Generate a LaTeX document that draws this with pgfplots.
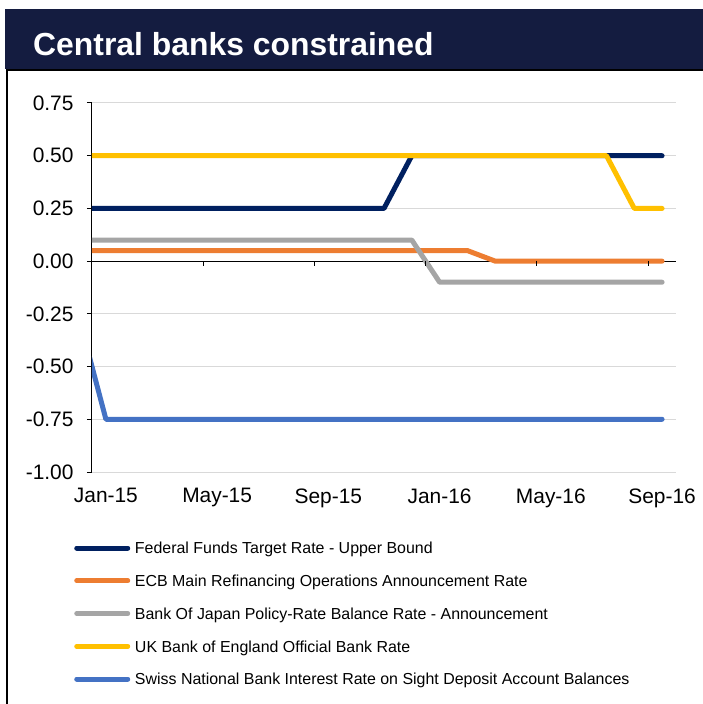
\documentclass[border=0pt]{standalone}
\usepackage{pgfplots}
\pgfplotsset{compat=1.18}
\usepackage{pgfplotstable}
\usepackage{fontspec}
\setmainfont{Liberation Sans}
\definecolor{titlebg}{RGB}{20,28,64}
\definecolor{fedc}{RGB}{0,32,96}
\definecolor{ecbc}{RGB}{237,125,49}
\definecolor{bojc}{RGB}{165,165,165}
\definecolor{boec}{RGB}{255,192,0}
\definecolor{snbc}{RGB}{68,114,196}
\definecolor{gridc}{RGB}{217,217,217}

% month index: -1 = Dec-14, 0 = Jan-15, ..., 20 = Sep-16
\pgfplotstableread{
m fed ecb boj boe snb
-1 0.25 0.05 0.10 0.50 -0.25
0 0.25 0.05 0.10 0.50 -0.75
1 0.25 0.05 0.10 0.50 -0.75
2 0.25 0.05 0.10 0.50 -0.75
3 0.25 0.05 0.10 0.50 -0.75
4 0.25 0.05 0.10 0.50 -0.75
5 0.25 0.05 0.10 0.50 -0.75
6 0.25 0.05 0.10 0.50 -0.75
7 0.25 0.05 0.10 0.50 -0.75
8 0.25 0.05 0.10 0.50 -0.75
9 0.25 0.05 0.10 0.50 -0.75
10 0.25 0.05 0.10 0.50 -0.75
11 0.50 0.05 0.10 0.50 -0.75
12 0.50 0.05 -0.10 0.50 -0.75
13 0.50 0.05 -0.10 0.50 -0.75
14 0.50 0.00 -0.10 0.50 -0.75
15 0.50 0.00 -0.10 0.50 -0.75
16 0.50 0.00 -0.10 0.50 -0.75
17 0.50 0.00 -0.10 0.50 -0.75
18 0.50 0.00 -0.10 0.50 -0.75
19 0.50 0.00 -0.10 0.25 -0.75
20 0.50 0.00 -0.10 0.25 -0.75
}\rates

\begin{document}
\begin{tikzpicture}
\useasboundingbox (0bp,0bp) rectangle (703bp,704bp);
\fill[white] (0bp,0bp) rectangle (703bp,704bp);
\fill[titlebg] (5bp,635bp) rectangle (712bp,695bp);
\draw[line width=1.2bp, black] (7bp,-5bp) -- (7bp,634bp) -- (712bp,634bp);
\node[anchor=base west, text=white, font=\fontsize{32}{38}\selectfont\bfseries, inner sep=0pt] at (33bp,648bp) {Central banks constrained};
\begin{axis}[
  at={(92bp,232bp)}, anchor=south west,
  width=584bp, height=369bp, scale only axis,
  xmin=-0.5, xmax=20.5, ymin=-1, ymax=0.75,
  axis y line*=left, axis x line*=bottom,
  x axis line style={draw=none},
  y axis line style={black, line width=1bp},
  xtick={0,4,8,12,16,20},
  xticklabels={Jan-15,May-15,Sep-15,Jan-16,May-16,Sep-16},
  xtick style={draw=none},
  ytick={-1,-0.75,-0.5,-0.25,0.25,0.5,0.75},
  extra y ticks={0},
  extra y tick style={grid style={black, line width=1bp}},
  ymajorgrids, grid style={gridc, line width=1bp},
  tick align=outside, major tick length=5bp,
  ytick style={black, line width=1bp},
  /pgf/number format/fixed, /pgf/number format/fixed zerofill,
  /pgf/number format/precision=2, /pgf/number format/assume math mode=true,
  ticklabel style={font=\fontsize{21}{25}\selectfont},
  yticklabel style={xshift=-10bp},
  xticklabel style={yshift=-8bp},
  every axis plot/.append style={line width=5bp, line join=round, line cap=round},
  legend style={at={(axis description cs:-0.0304,-0.1904)}, anchor=north west,
    draw=none, fill=none, inner sep=0pt, outer sep=0pt, row sep=21.25bp,
    font=\fontsize{16}{19}\selectfont,
    nodes={inner sep=0pt, text height=11.5bp, text depth=0pt},
    /tikz/every odd column/.append style={column sep=4.75bp}},
  legend cell align=left,
  legend image code/.code={\draw[line cap=round] (0bp,0bp) -- (51bp,0bp);},
]
\addplot[fedc] table[x=m, y=fed] {\rates};
\addlegendentry{Federal Funds Target Rate - Upper Bound}
\addplot[ecbc] table[x=m, y=ecb] {\rates};
\addlegendentry{ECB Main Refinancing Operations Announcement Rate}
\addplot[bojc] table[x=m, y=boj] {\rates};
\addlegendentry{Bank Of Japan Policy-Rate Balance Rate - Announcement}
\addplot[boec] table[x=m, y=boe] {\rates};
\addlegendentry{UK Bank of England Official Bank Rate}
\addplot[snbc] table[x=m, y=snb] {\rates};
\addlegendentry{Swiss National Bank Interest Rate on Sight Deposit Account Balances}
\pgfplotsinvokeforeach{-0.5,3.5,7.5,11.5,15.5,19.5}{
  \draw[black, line width=1bp] (axis cs:#1,0) -- ([yshift=-5bp]axis cs:#1,0);
}
\end{axis}
\end{tikzpicture}
\end{document}
